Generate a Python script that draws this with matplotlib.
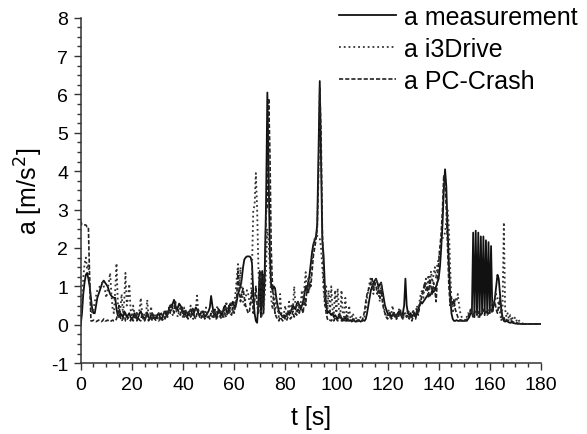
import numpy as np
import matplotlib
matplotlib.use("Agg")
import matplotlib.pyplot as plt
from matplotlib.ticker import MultipleLocator

plt.rcParams['font.family'] = ['Liberation Sans', 'DejaVu Sans']
plt.rcParams['axes.unicode_minus'] = False

# time grid (s), 0.5 s sampling
t = np.arange(0, 180.5, 0.5)

# acceleration [m/s^2]
a_measurement = [
    0.0, 0.3, 0.8, 1.1, 1.3, 1.35, 1.2, 1.0, 0.7, 0.4, 0.3, 0.3, 0.5, 0.7, 0.8, 0.9, 1.0, 1.1, 1.15, 1.1,
    1.05, 1.0, 0.9, 0.8, 0.75, 0.72, 0.7, 0.7, 0.4, 0.25, 0.2, 0.3, 0.25, 0.2, 0.35, 0.3, 0.2, 0.25, 0.3, 0.2,
    0.15, 0.2, 0.3, 0.25, 0.15, 0.2, 0.3, 0.35, 0.25, 0.2, 0.15, 0.2, 0.3, 0.2, 0.15, 0.25, 0.3, 0.2, 0.15, 0.2,
    0.25, 0.3, 0.2, 0.15, 0.2, 0.3, 0.35, 0.25, 0.3, 0.4, 0.5, 0.45, 0.55, 0.65, 0.5, 0.4, 0.45, 0.55, 0.5, 0.4,
    0.3, 0.35, 0.25, 0.2, 0.3, 0.35, 0.4, 0.3, 0.25, 0.35, 0.45, 0.4, 0.3, 0.25, 0.3, 0.35, 0.3, 0.2, 0.25, 0.3,
    0.35, 0.45, 0.75, 0.5, 0.3, 0.25, 0.2, 0.3, 0.4, 0.35, 0.25, 0.3, 0.45, 0.5, 0.35, 0.3, 0.45, 0.55, 0.5, 0.6,
    0.5, 0.45, 0.6, 0.8, 0.9, 1.0, 1.2, 1.5, 1.7, 1.75, 1.78, 1.78, 1.78, 1.75, 1.6, 0.8, 0.3, 0.1, 0.05, 0.6,
    1.4, 0.2, 1.4, 0.3, 1.5, 3.2, 6.05, 4.0, 1.8, 1.0, 0.9, 1.0, 0.95, 0.7, 0.5, 0.35, 0.3, 0.25, 0.2, 0.25,
    0.2, 0.25, 0.3, 0.35, 0.3, 0.4, 0.5, 0.45, 0.4, 0.55, 0.6, 0.5, 0.4, 0.5, 0.6, 0.8, 1.0, 0.9, 1.1, 1.3,
    1.6, 1.9, 2.1, 2.2, 2.3, 2.6, 4.5, 6.35, 4.2, 2.2, 1.8, 1.0, 0.5, 0.3, 0.35, 0.3, 0.25, 0.3, 0.2, 0.25,
    0.2, 0.15, 0.2, 0.25, 0.15, 0.1, 0.15, 0.2, 0.1, 0.15, 0.1, 0.12, 0.1, 0.15, 0.1, 0.08, 0.1, 0.12, 0.1, 0.08,
    0.1, 0.12, 0.1, 0.15, 0.3, 0.5, 0.7, 0.9, 1.0, 1.1, 1.15, 1.2, 1.1, 1.0, 1.05, 1.1, 0.9, 0.7, 0.5, 0.4,
    0.3, 0.25, 0.3, 0.2, 0.25, 0.3, 0.2, 0.25, 0.3, 0.35, 0.3, 0.25, 0.3, 0.5, 1.2, 0.5, 0.3, 0.25, 0.3, 0.2,
    0.25, 0.3, 0.2, 0.3, 0.4, 0.5, 0.6, 0.55, 0.6, 0.65, 0.7, 0.75, 0.8, 0.75, 0.8, 0.9, 0.85, 0.9, 1.0, 1.1,
    1.2, 1.5, 2.0, 2.6, 3.5, 4.05, 3.6, 2.5, 1.6, 0.8, 0.3, 0.15, 0.1, 0.1, 0.12, 0.1, 0.1, 0.12, 0.1, 0.1,
    0.1, 0.12, 0.1, 0.15, 0.2, 0.3, 0.3, 2.4, 0.2, 2.45, 0.25, 2.4, 0.2, 2.3, 0.3, 2.3, 0.25, 2.2, 0.3, 2.15,
    0.3, 2.05, 0.35, 0.5, 0.7, 1.0, 1.3, 1.2, 0.8, 0.4, 0.2, 0.1, 0.08, 0.1, 0.08, 0.06, 0.05, 0.06, 0.05, 0.04,
    0.03, 0.03, 0.02, 0.03, 0.02, 0.02, 0.02, 0.02, 0.02, 0.02, 0.02, 0.02, 0.02, 0.02, 0.02, 0.02, 0.02, 0.02, 0.02, 0.02,
    0.02,
]

a_i3drive = [
    0.0, 0.6, 1.2, 1.6, 1.75, 1.45, 1.55, 1.1, 0.5, 0.3, 0.4, 0.6, 0.75, 0.9, 0.95, 1.0, 1.05, 1.1, 1.0, 0.9,
    0.7, 0.9, 1.1, 1.35, 0.8, 0.4, 0.3, 0.9, 1.6, 0.6, 0.2, 0.4, 0.8, 0.3, 0.6, 1.35, 0.5, 0.7, 1.06, 0.4,
    0.2, 0.5, 0.3, 0.15, 0.35, 0.2, 0.4, 0.7, 0.3, 0.15, 0.3, 0.2, 0.65, 0.25, 0.15, 0.48, 0.2, 0.15, 0.3, 0.25,
    0.15, 0.3, 0.2, 0.1, 0.25, 0.35, 0.2, 0.15, 0.4, 0.3, 0.5, 0.35, 0.25, 0.45, 0.6, 0.3, 0.2, 0.35, 0.5, 0.3,
    0.2, 0.45, 0.3, 0.15, 0.35, 0.25, 0.5, 0.2, 0.15, 0.3, 0.4, 0.76, 0.3, 0.2, 0.35, 0.25, 0.15, 0.3, 0.45, 0.2,
    0.15, 0.3, 0.25, 0.4, 0.2, 0.15, 0.35, 0.5, 0.3, 0.2, 0.4, 0.3, 0.2, 0.35, 0.61, 0.3, 0.25, 0.4, 0.6, 0.3,
    0.5, 0.8, 1.2, 1.58, 1.0, 1.5, 0.9, 0.6, 0.5, 0.7, 0.9, 0.8, 0.6, 0.5, 1.5, 3.0, 3.1, 3.95, 3.0, 1.5,
    0.5, 0.3, 0.2, 0.4, 0.8, 1.5, 2.5, 2.2, 1.4, 0.7, 0.4, 0.8, 0.3, 0.7, 0.4, 0.2, 0.8, 0.3, 0.2, 0.3,
    0.5, 0.2, 0.3, 0.6, 0.3, 0.5, 0.4, 1.0, 0.5, 0.3, 0.6, 0.4, 0.5, 0.9, 0.6, 1.0, 1.37, 0.8, 1.2, 0.9,
    1.3, 1.7, 2.0, 2.25, 2.3, 2.32, 2.3, 2.25, 2.0, 1.5, 0.9, 0.5, 1.0, 0.4, 0.9, 0.3, 1.0, 0.4, 0.3, 0.9,
    0.3, 0.95, 0.4, 0.2, 0.9, 0.3, 0.2, 0.7, 0.3, 0.2, 0.5, 0.15, 0.2, 0.3, 0.1, 0.15, 0.2, 0.1, 0.15, 0.2,
    0.1, 0.15, 0.2, 0.4, 0.7, 0.9, 1.1, 1.25, 1.0, 0.8, 1.0, 1.2, 1.1, 0.8, 0.6, 1.1, 0.8, 0.5, 0.3, 0.2,
    0.25, 0.4, 0.2, 0.3, 0.5, 0.2, 0.3, 0.15, 0.25, 0.4, 0.2, 0.3, 0.15, 0.25, 0.3, 0.2, 0.4, 0.3, 0.15, 0.2,
    0.4, 0.2, 0.3, 0.5, 0.3, 0.6, 0.8, 0.9, 0.7, 1.0, 1.2, 0.9, 1.3, 1.0, 1.4, 1.1, 1.3, 1.5, 1.2, 1.6,
    1.7, 2.0, 2.2, 2.25, 2.3, 2.4, 2.7, 2.98, 2.5, 1.5, 0.6, 0.3, 0.5, 0.7, 0.6, 0.8, 0.5, 0.3, 0.2, 0.15,
    0.1, 0.15, 0.2, 0.3, 0.25, 0.4, 0.3, 0.2, 0.3, 0.25, 0.3, 0.2, 0.3, 0.25, 0.35, 0.3, 0.4, 0.35, 0.3, 0.4,
    0.35, 0.5, 0.6, 0.5, 0.6, 0.8, 0.7, 0.5, 0.3, 0.1, 0.5, 2.67, 0.4, 0.2, 0.3, 0.15, 0.25, 0.1, 0.2, 0.15,
    0.2, 0.1, 0.15, 0.1, 0.05, 0.04, 0.03, 0.03, 0.02, 0.02, 0.02, 0.02, 0.02, 0.02, 0.02, 0.02, 0.02, 0.02, 0.02, 0.02,
    0.02,
]

a_pccrash = [
    2.7, 2.6, 2.6, 2.6, 2.6, 2.55, 2.55, 1.2, 0.1, 0.1, 0.12, 0.1, 0.08, 0.1, 0.12, 0.1, 0.08, 0.1, 0.15, 0.1,
    0.1, 0.12, 0.1, 0.08, 0.1, 0.12, 0.1, 0.1, 0.15, 0.3, 0.5, 0.2, 0.1, 0.15, 0.3, 0.1, 0.1, 0.2, 0.15, 0.1,
    0.2, 0.1, 0.15, 0.3, 0.1, 0.2, 0.12, 0.1, 0.3, 0.15, 0.1, 0.2, 0.35, 0.1, 0.15, 0.2, 0.1, 0.25, 0.15, 0.1,
    0.2, 0.1, 0.15, 0.3, 0.12, 0.2, 0.15, 0.35, 0.2, 0.45, 0.3, 0.55, 0.4, 0.3, 0.6, 0.35, 0.4, 0.3, 0.25, 0.5,
    0.35, 0.2, 0.4, 0.25, 0.15, 0.3, 0.2, 0.35, 0.45, 0.2, 0.15, 0.3, 0.4, 0.2, 0.15, 0.25, 0.35, 0.15, 0.2, 0.3,
    0.2, 0.15, 0.3, 0.2, 0.25, 0.4, 0.15, 0.2, 0.35, 0.25, 0.15, 0.2, 0.4, 0.25, 0.2, 0.35, 0.5, 0.3, 0.25, 0.45,
    0.3, 0.5, 0.7, 1.4, 0.9, 0.6, 0.8, 0.95, 0.7, 0.5, 0.4, 0.3, 0.35, 0.6, 0.9, 0.3, 0.6, 1.0, 0.5, 0.3,
    0.8, 1.4, 0.5, 1.3, 1.0, 2.9, 3.1, 5.9, 4.5, 2.0, 1.0, 0.6, 0.3, 0.2, 0.15, 0.1, 0.2, 0.15, 0.1, 0.2,
    0.15, 0.1, 0.2, 0.3, 0.15, 0.2, 0.35, 0.2, 0.3, 0.25, 0.4, 0.3, 0.5, 0.4, 0.3, 0.7, 0.5, 1.0, 0.8, 1.1,
    1.0, 1.4, 1.8, 2.0, 2.2, 2.5, 3.8, 6.2, 5.0, 2.5, 1.2, 0.6, 0.3, 0.15, 0.1, 0.12, 0.1, 0.15, 0.1, 0.2,
    0.15, 0.1, 0.3, 0.15, 0.1, 0.2, 0.12, 0.1, 0.25, 0.1, 0.12, 0.1, 0.08, 0.1, 0.12, 0.1, 0.08, 0.1, 0.12, 0.1,
    0.1, 0.2, 0.35, 0.6, 0.8, 0.9, 1.0, 1.1, 1.2, 0.9, 1.1, 1.0, 0.8, 1.0, 0.7, 0.9, 0.6, 0.4, 0.3, 0.2,
    0.15, 0.2, 0.3, 0.15, 0.2, 0.35, 0.2, 0.15, 0.3, 0.2, 0.4, 0.2, 0.15, 0.3, 0.25, 0.2, 0.35, 0.15, 0.25, 0.1,
    0.2, 0.35, 0.15, 0.4, 0.25, 0.45, 0.6, 0.8, 0.9, 1.1, 0.9, 1.0, 0.7, 1.2, 1.0, 0.8, 1.1, 0.9, 0.6, 1.2,
    1.6, 2.0, 2.4, 3.0, 3.9, 3.7, 3.0, 2.0, 1.0, 0.5, 0.7, 0.5, 0.65, 0.4, 0.3, 0.2, 0.15, 0.1, 0.12, 0.1,
    0.12, 0.1, 0.15, 0.2, 0.3, 0.4, 0.3, 0.2, 0.35, 0.3, 0.4, 0.3, 0.35, 0.25, 0.3, 0.4, 0.3, 0.35, 0.25, 0.3,
    0.35, 0.4, 0.3, 0.5, 0.6, 0.4, 0.3, 0.5, 0.7, 0.3, 0.15, 0.2, 0.1, 0.15, 0.1, 0.12, 0.08, 0.1, 0.08, 0.06,
    0.05, 0.05, 0.04, 0.03, 0.03, 0.02, 0.02, 0.02, 0.02, 0.02, 0.02, 0.02, 0.02, 0.02, 0.02, 0.02, 0.02, 0.02, 0.02, 0.02,
    0.02,
]

fig = plt.figure(figsize=(5.87, 4.35), dpi=100)
ax = fig.add_axes([0.1375, 0.163, 0.784, 0.794])

l1, = ax.plot(t, a_measurement, '-', color='#111111', lw=1.3)
l2, = ax.plot(t, a_i3drive, ':', color='#333333', lw=1.3)
l3, = ax.plot(t, a_pccrash, '--', color='#222222', lw=1.2, dashes=(2.5, 1.2))

ax.set_xlim(0, 180)
ax.set_ylim(-1, 8)
ax.xaxis.set_major_locator(MultipleLocator(20))
ax.xaxis.set_minor_locator(MultipleLocator(5))
ax.yaxis.set_major_locator(MultipleLocator(1))
ax.yaxis.set_minor_locator(MultipleLocator(0.25))
ax.tick_params(which='major', direction='out', length=5, width=1, labelsize=14, color='#333333', pad=4)
ax.tick_params(which='minor', direction='out', length=2.7, width=1, color='#333333')
for side in ('top', 'right'):
    ax.spines[side].set_visible(False)
for side in ('left', 'bottom'):
    ax.spines[side].set_linewidth(1.1)
    ax.spines[side].set_color('#333333')

ax.set_xlabel('t [s]', fontsize=18, labelpad=9)
ax.set_ylabel('a [m/s$^2$]', fontsize=18, labelpad=4)

fig.legend([l1, l2, l3], ['a measurement', 'a i3Drive', 'a PC-Crash'],
           loc='upper left', bbox_to_anchor=(0.5775, 0.987), frameon=False,
           fontsize=18, handlelength=2.3, handletextpad=0.32, labelspacing=0.32,
           borderpad=0.0, borderaxespad=0.0)

fig.savefig('out.png', dpi=100)
